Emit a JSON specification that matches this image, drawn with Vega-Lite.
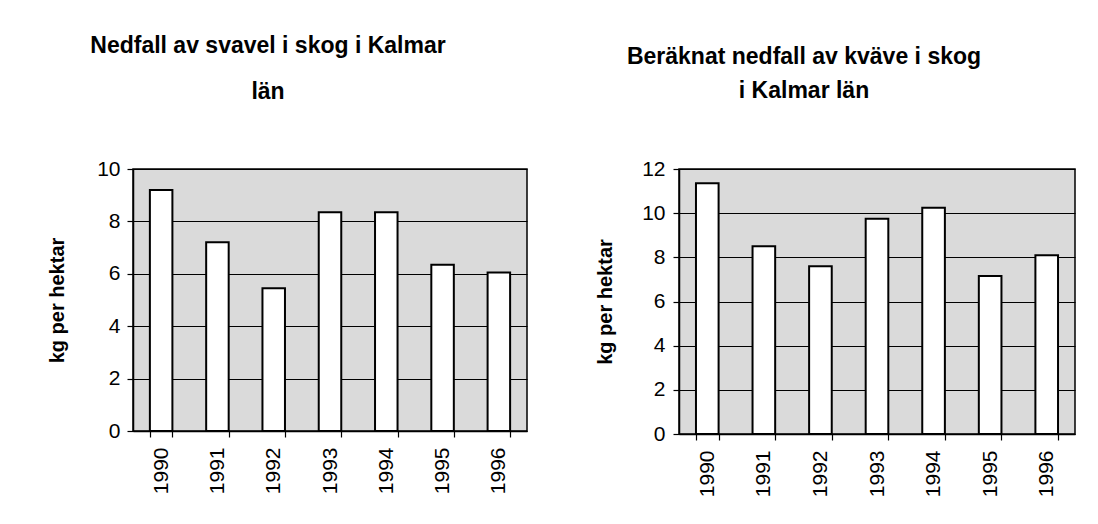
{
  "$schema": "https://vega.github.io/schema/vega-lite/v6.json",
  "padding": {"left": 46, "top": 34, "right": 0, "bottom": 0},
  "background": "white",
  "spacing": 66,
  "config": {
    "font": "Liberation Sans",
    "view": {"fill": "#dadada", "stroke": "#000000", "strokeWidth": 1.5},
    "axis": {
      "labelFont": "Liberation Sans", "labelFontSize": 21, "labelColor": "#000000",
      "domainColor": "#000000", "domainWidth": 1.5, "tickColor": "#000000", "tickWidth": 1.2,
      "titleFont": "Liberation Sans", "titleFontSize": 20, "titleFontWeight": "bold", "titleColor": "#000000"
    },
    "title": {"font": "Liberation Sans", "fontSize": 23, "fontWeight": "bold", "color": "#000000", "frame": "group", "anchor": "middle"}
  },
  "datasets": {
    "svavel": [
      {"year": "1990", "value": 9.2},
      {"year": "1991", "value": 7.2},
      {"year": "1992", "value": 5.45},
      {"year": "1993", "value": 8.35},
      {"year": "1994", "value": 8.35},
      {"year": "1995", "value": 6.35},
      {"year": "1996", "value": 6.05}
    ],
    "kvave": [
      {"year": "1990", "value": 11.35},
      {"year": "1991", "value": 8.5},
      {"year": "1992", "value": 7.6},
      {"year": "1993", "value": 9.75},
      {"year": "1994", "value": 10.25},
      {"year": "1995", "value": 7.15},
      {"year": "1996", "value": 8.1}
    ]
  },
  "hconcat": [
    {
      "data": {"name": "svavel"},
      "width": 394,
      "height": 262,
      "title": {"text": ["Nedfall av svavel i skog i Kalmar", "län"], "lineHeight": 46, "dx": -62, "offset": 54},
      "mark": {"type": "bar", "fill": "white", "stroke": "black", "strokeWidth": 2},
      "encoding": {
        "x": {"field": "year", "type": "ordinal", "scale": {"paddingInner": 0.6, "paddingOuter": 0.3},
          "axis": {"title": null, "labelAngle": -90, "tickBand": "extent", "grid": false, "labelPadding": 10, "tickSize": 6}},
        "y": {"field": "value", "type": "quantitative", "scale": {"domain": [0, 10]},
          "axis": {"title": "kg per hektar", "values": [0, 2, 4, 6, 8, 10], "grid": true, "gridColor": "#000000", "gridWidth": 1.2, "gridOpacity": 1, "tickSize": 6, "labelPadding": 7, "titlePadding": 29}}
      }
    },
    {
      "data": {"name": "kvave"},
      "width": 396,
      "height": 265,
      "title": {"text": ["Beräknat nedfall av kväve i skog", "i Kalmar län"], "lineHeight": 34, "dx": -73, "offset": 55},
      "mark": {"type": "bar", "fill": "white", "stroke": "black", "strokeWidth": 2},
      "encoding": {
        "x": {"field": "year", "type": "ordinal", "scale": {"paddingInner": 0.6, "paddingOuter": 0.3},
          "axis": {"title": null, "labelAngle": -90, "tickBand": "extent", "grid": false, "labelPadding": 10, "tickSize": 6}},
        "y": {"field": "value", "type": "quantitative", "scale": {"domain": [0, 12]},
          "axis": {"title": "kg per hektar", "values": [0, 2, 4, 6, 8, 10, 12], "grid": true, "gridColor": "#000000", "gridWidth": 1.2, "gridOpacity": 1, "tickSize": 6, "labelPadding": 8, "titlePadding": 26}}
      }
    }
  ]
}
